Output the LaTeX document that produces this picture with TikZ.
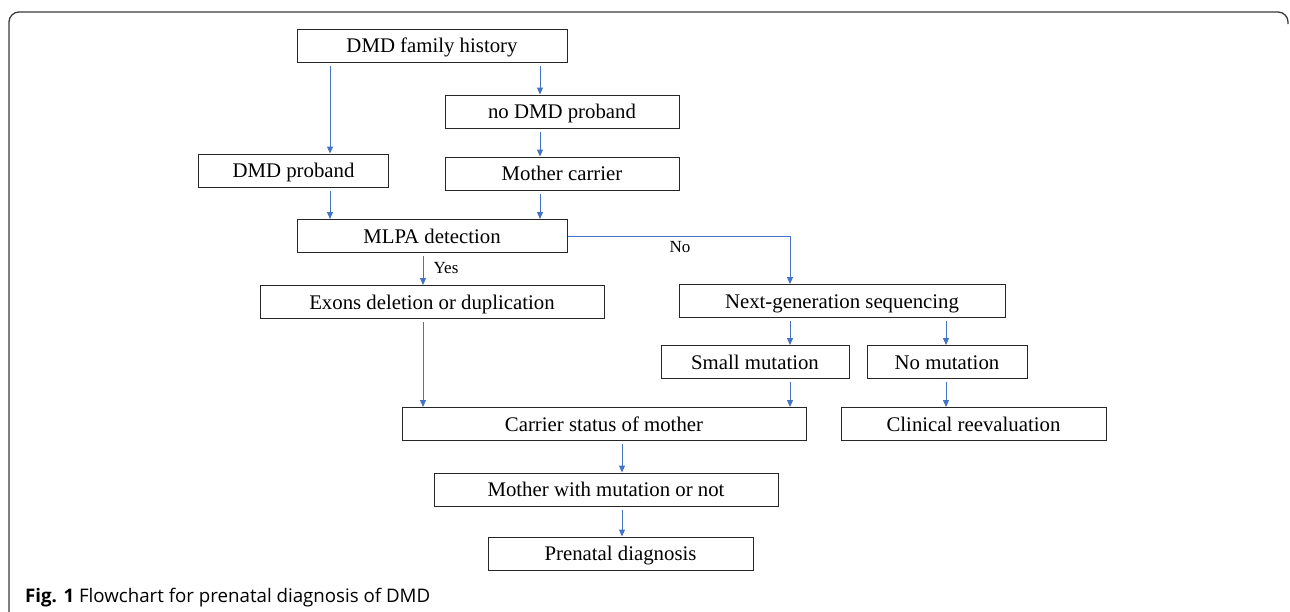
\documentclass[tikz,border=0pt]{standalone}
\usepackage{fontspec}
\setmainfont{Liberation Serif}
\newfontfamily\capfont{Open Sans}
\usetikzlibrary{arrows.meta}
\definecolor{arrblue}{HTML}{4472C4}
\definecolor{framegray}{HTML}{3A3A3A}

\begin{document}
\begin{tikzpicture}[x=1pt,y=-1pt,
  box/.style={draw=black!85,line width=1pt,inner sep=0pt,minimum height=33pt,text height=14pt,text depth=0pt,font=\fontsize{20.8}{24}\selectfont},
  arr/.style={draw=arrblue,line width=1pt,shorten <=3pt,-{Triangle[length=7pt,width=6pt]}},
  lbl/.style={inner sep=0pt,font=\fontsize{17}{20}\selectfont}]
\useasboundingbox (0,0) rectangle (1290,611);
\draw[framegray,line width=1.3pt,rounded corners=10pt] (9,630) -- (9,12) -- (1288,12) -- (1288,24);
\node[box,minimum width=270pt] (fam) at (432,45.5) {DMD family history};
\node[box,minimum width=234pt] (nodmd) at (562,111.5) {no DMD proband};
\node[box,minimum width=190pt] (dmdp) at (293.5,170.5) {DMD proband};
\node[box,minimum width=234pt] (mc) at (562,173.5) {Mother carrier};
\node[box,minimum width=270pt] (mlpa) at (432,236) {MLPA detection};
\node[box,minimum width=344pt] (exon) at (432,302) {Exons deletion or duplication};
\node[box,minimum width=326pt] (ngs) at (842,301) {Next-generation sequencing};
\node[box,minimum width=188pt] (small) at (755,362) {Small mutation};
\node[box,minimum width=160pt] (nomut) at (947,362) {No mutation};
\node[box,minimum width=404pt] (carrier) at (604,424) {Carrier status of mother};
\node[box,minimum width=265pt] (clin) at (973.5,424) {Clinical reevaluation};
\node[box,minimum width=344pt] (mwm) at (606,489.5) {Mother with mutation or not};
\node[box,minimum width=265pt] (pre) at (620.5,553.5) {Prenatal diagnosis};
\node[lbl] (yes) at (446,268) {Yes};
\node[lbl] (no) at (680,247) {No};
\node[anchor=west,inner sep=0pt,font=\capfont\fontsize{18.7}{22}\selectfont] (cap) at (25,598) {\textbf{Fig. 1} Flowchart for prenatal diagnosis of DMD};
% arrow columns
\coordinate (c330) at (330,0);
\coordinate (c540) at (540,0);
\coordinate (c423) at (423,0);
\coordinate (c790) at (790,0);
\coordinate (c946) at (946,0);
\coordinate (c622) at (622,0);
\draw[arr] (fam.south -| c330) -- (dmdp.north -| c330);
\draw[arr] (fam.south -| c540) -- (nodmd.north -| c540);
\draw[arr] (nodmd.south -| c540) -- (mc.north -| c540);
\draw[arr] (dmdp.south -| c330) -- (mlpa.north -| c330);
\draw[arr] (mc.south -| c540) -- (mlpa.north -| c540);
\draw[arr] (mlpa.south -| c423) -- (exon.north -| c423);
\draw[arr,shorten <=0pt] (mlpa.east) -| (ngs.north -| c790);
\draw[arr] (exon.south -| c423) -- (carrier.north -| c423);
\draw[arr] (ngs.south -| c790) -- (small.north -| c790);
\draw[arr] (ngs.south -| c946) -- (nomut.north -| c946);
\draw[arr] (small.south -| c790) -- (carrier.north -| c790);
\draw[arr] (nomut.south -| c946) -- (clin.north -| c946);
\draw[arr] (carrier.south -| c622) -- (mwm.north -| c622);
\draw[arr] (mwm.south -| c622) -- (pre.north -| c622);
\end{tikzpicture}
\end{document}
